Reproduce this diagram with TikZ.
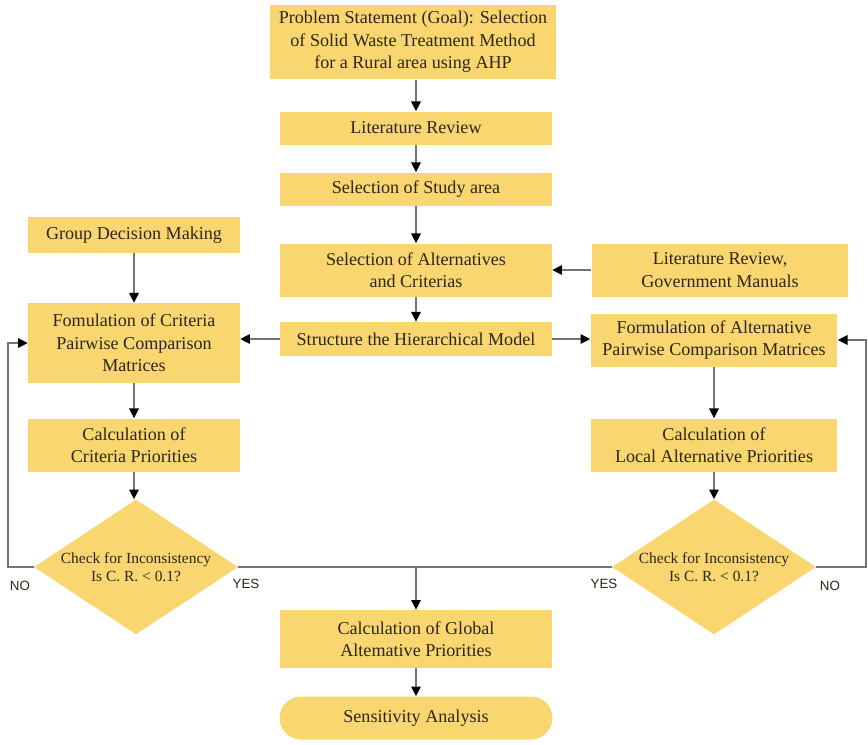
\documentclass[tikz,border=0pt]{standalone}
\usepackage{fontspec}
\setmainfont{Liberation Serif}
\newfontfamily\labelfont{Liberation Sans}
\usetikzlibrary{shapes.geometric,arrows.meta}

\definecolor{boxfill}{RGB}{249,214,112}
\definecolor{boxtext}{RGB}{45,38,26}
\definecolor{linegray}{RGB}{115,115,115}

\begin{document}
\begin{tikzpicture}[x=0.02cm, y=-0.02cm,
  box/.style={fill=boxfill, text=boxtext, inner sep=0pt, align=center,
    font=\fontsize{10.3}{12.8}\selectfont},
  check/.style={diamond, aspect=1.5, fill=boxfill, text=boxtext, inner sep=0pt,
    minimum width=4.08cm, minimum height=2.7cm, align=center,
    font=\fontsize{8.8}{10.4}\selectfont},
  flow/.style={draw=linegray, line width=0.7pt, -{Triangle[length=5.5pt, width=5.5pt, color=black]}},
  plain/.style={draw=linegray, line width=0.7pt},
  answer/.style={text=boxtext, font=\labelfont\fontsize{7.6}{9}\selectfont}]

\useasboundingbox (0,0) rectangle (868,744);

% -------- middle column -----------
\node [box, minimum width=5.72cm, minimum height=1.5cm] (goal) at (413,42)
  {Problem Statement (Goal): Selection\\of Solid Waste Treatment Method\\for a Rural area using AHP};
\node [box, minimum width=5.44cm, minimum height=0.66cm] (litreview) at (416,128) {Literature Review};
\node [box, minimum width=5.44cm, minimum height=0.66cm] (studyarea) at (416,189) {Selection of Study area};
\node [box, minimum width=5.44cm, minimum height=1.06cm] (selalt) at (416,270) {Selection of Alternatives\\and Criterias};
\node [box, minimum width=5.44cm, minimum height=0.68cm] (hiermodel) at (416,339) {Structure the Hierarchical Model};
\node [box, minimum width=5.46cm, minimum height=1.16cm] (globalprio) at (416,639) {Calculation of Global\\Altemative Priorities};
\node [box, minimum width=5.46cm, minimum height=0.86cm, rounded corners=0.43cm] (sensitivity) at (416,718) {Sensitivity Analysis};

% -------- left column -----------
\node [box, minimum width=4.24cm, minimum height=0.72cm] (groupdm) at (134,235) {Group Decision Making};
\node [box, minimum width=4.24cm, minimum height=1.6cm] (critmat) at (134,343) {Fomulation of Criteria\\Pairwise Comparison\\Matrices};
\node [box, minimum width=4.24cm, minimum height=1.06cm] (critprio) at (134,445) {Calculation of\\Criteria Priorities};
\node [check] (critcheck) at (136,567) {Check for Inconsistency\\Is C. R. < 0.1?};

% -------- right column -----------
\node [box, minimum width=5.14cm, minimum height=1.06cm] (manuals) at (720,270) {Literature Review,\\Government Manuals};
\node [box, minimum width=4.94cm, minimum height=1.06cm] (altmat) at (714,340) {Formulation of Alternative\\Pairwise Comparison Matrices};
\node [box, minimum width=4.94cm, minimum height=1.06cm] (altprio) at (714,445) {Calculation of\\Local Alternative Priorities};
\node [check] (altcheck) at (714,567) {Check for Inconsistency\\Is C. R. < 0.1?};

\node [answer] (critno) at (20,586) {NO};
\node [answer] (crityes) at (246,584) {YES};
\node [answer] (altyes) at (604,584) {YES};
\node [answer] (altno) at (830,586) {NO};

\coordinate (merge) at (416,567);
\coordinate (leftloop) at (8,567);
\coordinate (rightloop) at (866,567);

\draw [flow] (goal.south -| litreview) -- (litreview);
\draw [flow] (litreview) -- (studyarea);
\draw [flow] (studyarea) -- (selalt);
\draw [flow] (selalt) -- (hiermodel);
\draw [flow] (manuals) -- (selalt);
\draw [flow] (hiermodel.west) -- (hiermodel.west -| critmat.east);
\draw [flow] (hiermodel.east) -- (hiermodel.east -| altmat.west);

\draw [flow] (groupdm) -- (critmat);
\draw [flow] (critmat) -- (critprio);
\draw [flow] (critprio) -- (critprio |- critcheck.north);
\draw [flow] (altmat) -- (altprio);
\draw [flow] (altprio) -- (altcheck);

\draw [plain] (critcheck.east) -- (altcheck.west);
\draw [flow] (merge) -- (globalprio);
\draw [flow] (globalprio) -- (sensitivity);

\draw [flow] (critcheck.west) -- (leftloop) |- (critmat.west);
\draw [flow] (altcheck.east) -- (rightloop) |- (altmat.east);

\end{tikzpicture}
\end{document}
